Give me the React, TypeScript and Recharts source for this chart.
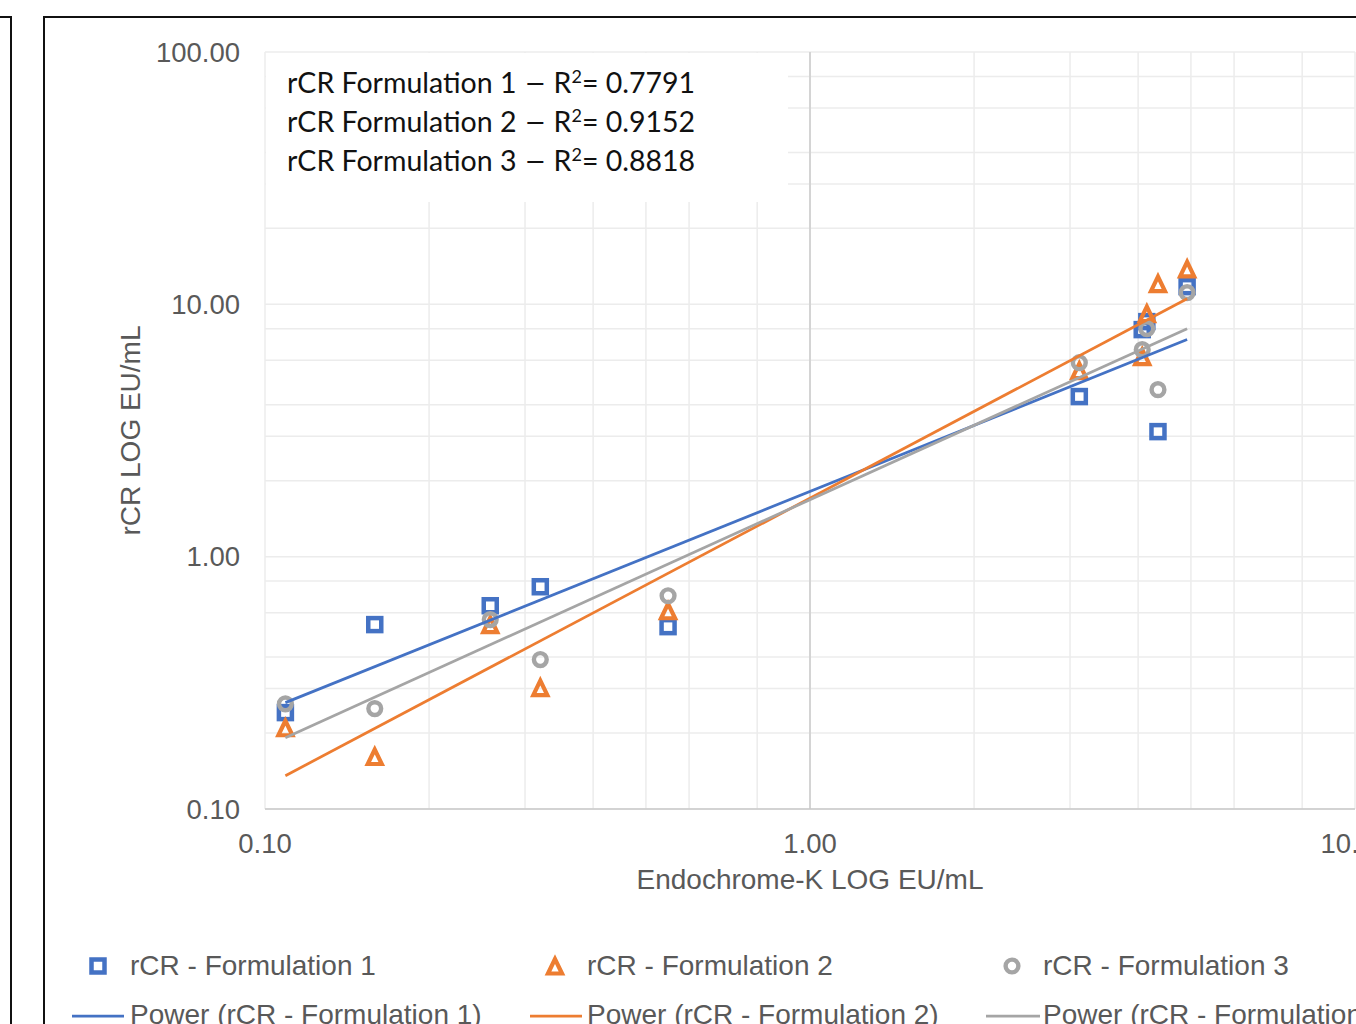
import { ScatterChart, Scatter, XAxis, YAxis, CartesianGrid, ReferenceLine } from "recharts";

// Endochrome-K concentrations (x) shared by the three formulations
const endoX = [0.109, 0.159, 0.259, 0.32, 0.549, 3.12, 4.07, 4.15, 4.35, 4.92];
const rcr1 = [0.241, 0.538, 0.639, 0.76, 0.528, 4.31, 7.94, 8.54, 3.13, 11.75];
const rcr2 = [0.208, 0.16, 0.533, 0.3, 0.605, 5.41, 6.15, 9.1, 11.97, 13.7];
const rcr3 = [0.261, 0.25, 0.563, 0.391, 0.7, 5.87, 6.61, 8.01, 4.59, 11.13];

// power trendline end points
const trendX = [0.109, 4.92];
const trend1 = [0.264, 7.25];
const trend2 = [0.1355, 10.53];
const trend3 = [0.1917, 8.01];

const xTicks = [0.1, 1, 10];
const yTicks = [0.1, 1, 10, 100];
const xGrid = [0.1, 0.2, 0.3, 0.4, 0.5, 0.6, 0.7, 0.8, 0.9, 1, 2, 3, 4, 5, 6, 7, 8, 9, 10];
const yGrid = [0.1, 0.2, 0.3, 0.4, 0.5, 0.6, 0.7, 0.8, 0.9, 1, 2, 3, 4, 5, 6, 7, 8, 9, 10, 20, 30, 40, 50, 60, 70, 80, 90, 100];

const rSquared = [
  { name: "rCR Formulation 1", r2: "0.7791" },
  { name: "rCR Formulation 2", r2: "0.9152" },
  { name: "rCR Formulation 3", r2: "0.8818" },
];

const BLUE = "#4472C4";
const ORANGE = "#ED7D31";
const GRAY = "#A5A5A5";
const TXT = "#595959";
const FONT = "'Liberation Sans', Arial, sans-serif";

const toPoints = (xs: number[], ys: number[]) => xs.map((x, i) => ({ x, y: ys[i] }));

const Square = (p: any) => (
  <rect x={p.cx - 6.5} y={p.cy - 6.5} width={13} height={13} fill="none" stroke={BLUE} strokeWidth={4.5} />
);
const Triangle = (p: any) => (
  <polygon
    points={`${p.cx},${p.cy - 8} ${p.cx - 7},${p.cy + 6.5} ${p.cx + 7},${p.cy + 6.5}`}
    fill="none"
    stroke={ORANGE}
    strokeWidth={4.2}
  />
);
const Ring = (p: any) => <circle cx={p.cx} cy={p.cy} r={6.4} fill="none" stroke={GRAY} strokeWidth={4.4} />;
const NoDot = () => <g />;

const fmt = (v: number) => v.toFixed(2);

export default function App() {
  return (
    <div style={{ position: "absolute", left: 0, top: 0, width: 1356, height: 1024, overflow: "hidden", background: "#fff" }}>
      {/* frames */}
      <div style={{ position: "absolute", left: -100, top: 16, width: 108, height: 1100, border: "2px solid #111" }} />
      <div style={{ position: "absolute", left: 43, top: 16, width: 1400, height: 1100, border: "2px solid #111" }} />

      <div style={{ position: "absolute", left: 0, top: 0 }}>
        <ScatterChart width={1400} height={1024} margin={{ top: 52, right: 45, bottom: 140, left: 0 }}>
          <CartesianGrid
            stroke="#ececec"
            strokeWidth={1.5}
            horizontalValues={yGrid}
            verticalValues={xGrid}
          />
          <XAxis
            type="number"
            dataKey="x"
            scale="log"
            domain={[0.1, 10]}
            ticks={xTicks}
            tickFormatter={fmt}
            allowDataOverflow
            height={75}
            tickSize={0}
            tickMargin={24}
            tick={{ fill: TXT, fontSize: 27.5, fontFamily: FONT }}
            axisLine={{ stroke: "#c8c8c8", strokeWidth: 1.5 }}
            label={{ value: "Endochrome-K LOG EU/mL", position: "insideBottom", offset: -5, fill: TXT, fontSize: 28, fontFamily: FONT }}
          />
          <YAxis
            type="number"
            dataKey="y"
            scale="log"
            domain={[0.1, 100]}
            ticks={yTicks}
            tickFormatter={fmt}
            allowDataOverflow
            width={265}
            tickSize={0}
            tickMargin={25}
            axisLine={false}
            tick={{ fill: TXT, fontSize: 27.5, fontFamily: FONT }}
            label={{
              value: "rCR LOG EU/mL",
              angle: -90,
              position: "insideLeft",
              offset: 130,
              fill: TXT,
              fontSize: 28,
              fontFamily: FONT,
              style: { textAnchor: "middle" },
            }}
          />
          <ReferenceLine x={1} stroke="#d4d4d4" strokeWidth={2} />
          <Scatter name="rCR - Formulation 1" data={toPoints(endoX, rcr1)} shape={Square} isAnimationActive={false} />
          <Scatter name="rCR - Formulation 2" data={toPoints(endoX, rcr2)} shape={Triangle} isAnimationActive={false} />
          <Scatter name="rCR - Formulation 3" data={toPoints(endoX, rcr3)} shape={Ring} isAnimationActive={false} />
          <Scatter data={toPoints(trendX, trend1)} line={{ stroke: BLUE, strokeWidth: 2.75 }} shape={NoDot} isAnimationActive={false} />
          <Scatter data={toPoints(trendX, trend2)} line={{ stroke: ORANGE, strokeWidth: 2.75 }} shape={NoDot} isAnimationActive={false} />
          <Scatter data={toPoints(trendX, trend3)} line={{ stroke: GRAY, strokeWidth: 2.75 }} shape={NoDot} isAnimationActive={false} />
        </ScatterChart>
      </div>

      {/* R² text box */}
      <div
        style={{
          position: "absolute",
          left: 266,
          top: 53,
          width: 522,
          height: 149,
          background: "#fff",
          fontFamily: "Lato, 'Open Sans', sans-serif",
          fontSize: 28.5,
          color: "#111",
        }}
      >
        {rSquared.map((r, i) => (
          <div key={r.name} style={{ position: "absolute", left: 21, top: 13 + i * 39, whiteSpace: "nowrap", lineHeight: "32px" }}>
            {r.name} <span style={{ display: "inline-block", transform: "scaleX(1.4)", margin: "0 3px" }}>–</span> R
            <sup style={{ fontSize: 18, lineHeight: 0, verticalAlign: "10px" }}>2</sup>= {r.r2}
          </div>
        ))}
      </div>

      {/* legend */}
      <svg style={{ position: "absolute", left: 0, top: 930 }} width={1356} height={94}>
        <g fontFamily={FONT} fontSize={28} fill={TXT}>
          <Square cx={98} cy={36} />
          <text x={130} y={45}>rCR - Formulation 1</text>
          <Triangle cx={555} cy={37} />
          <text x={587} y={45}>rCR - Formulation 2</text>
          <Ring cx={1012} cy={36} />
          <text x={1043} y={45}>rCR - Formulation 3</text>
          <line x1={72} x2={124} y1={86} y2={86} stroke={BLUE} strokeWidth={2.75} />
          <text x={130} y={94}>Power (rCR - Formulation 1)</text>
          <line x1={530} x2={582} y1={86} y2={86} stroke={ORANGE} strokeWidth={2.75} />
          <text x={587} y={94}>Power (rCR - Formulation 2)</text>
          <line x1={986} x2={1040} y1={86} y2={86} stroke={GRAY} strokeWidth={2.75} />
          <text x={1043} y={94}>Power (rCR - Formulation 3)</text>
        </g>
      </svg>
    </div>
  );
}
